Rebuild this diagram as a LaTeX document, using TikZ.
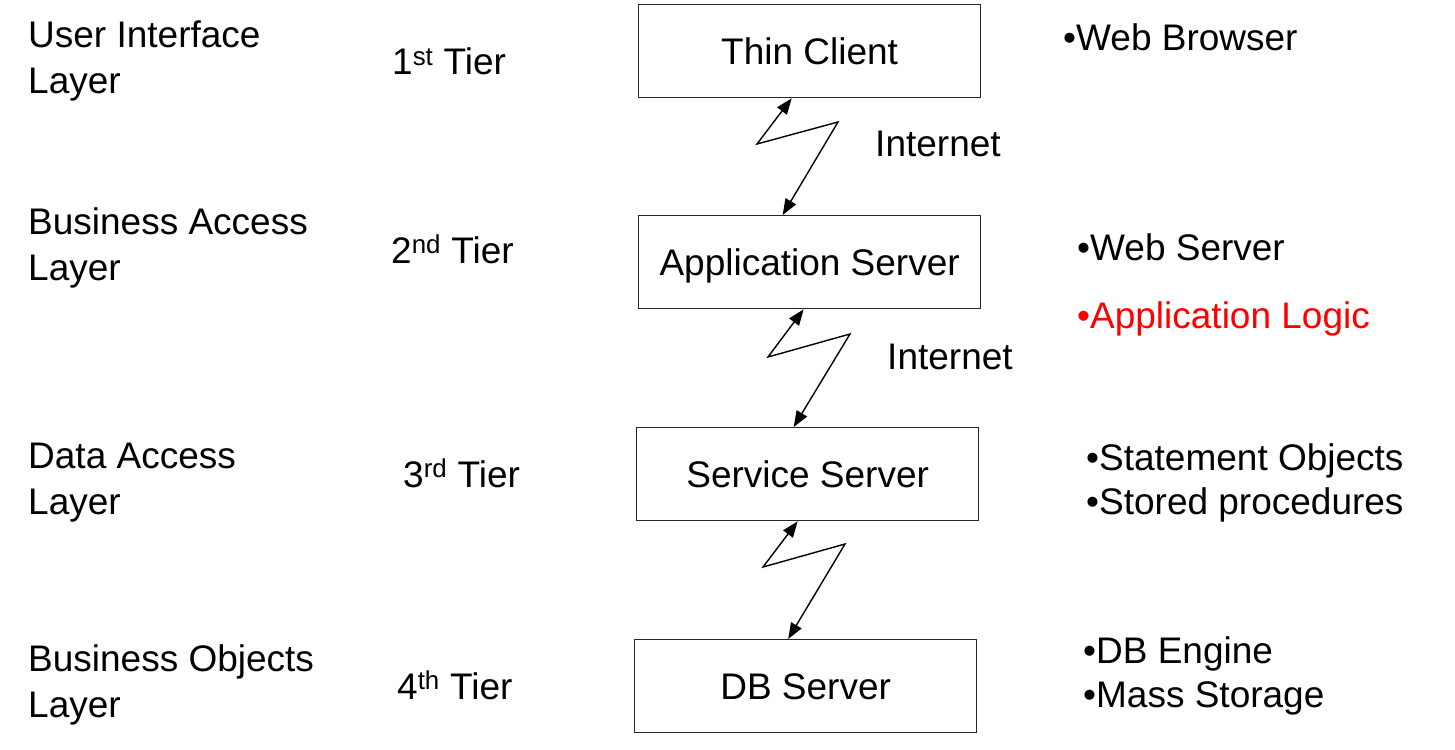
\documentclass[tikz,border=0pt]{standalone}
\usepackage{fontspec}
\setmainfont{Liberation Sans}
\usetikzlibrary{arrows.meta}
\begin{document}
\begin{tikzpicture}[x=1pt,y=-1pt,
  every node/.style={font=\fontsize{37}{44}\selectfont, inner sep=0pt},
  tierbox/.style={draw=black!85, line width=1.3pt, minimum width=342pt, minimum height=93pt, text height=26.5pt, text depth=0pt, anchor=north west},
  txt/.style={anchor=base west},
  zig/.style={line width=1.4pt, {Triangle[length=16pt,width=12pt]}-{Triangle[length=16pt,width=12pt]}}]
\useasboundingbox (0,0) rectangle (1455,749);
% boxes
\node[tierbox] (tc) at (638,4) {Thin Client};
\node[tierbox] (as) at (638,215) {Application Server};
\node[tierbox] (ss) at (636,427) {Service Server};
\node[tierbox] (db) at (634,639) {DB Server};
% zigzag connectors
\coordinate (k1a) at (757,144); \coordinate (k1b) at (838,122);
\coordinate (k2a) at (768,357); \coordinate (k2b) at (850,334);
\coordinate (k3a) at (763,567); \coordinate (k3b) at (845,544);
\draw[zig] ([xshift=-18pt]tc.south) -- (k1a) -- (k1b) -- ([xshift=-27pt]as.north);
\draw[zig] ([xshift=-6pt]as.south) -- (k2a) -- (k2b) -- ([xshift=-14pt]ss.north);
\draw[zig] ([xshift=-10pt]ss.south) -- (k3a) -- (k3b) -- ([xshift=-17.5pt]db.north);
\node[txt] (i1) at (875,157) {Internet};
\node[txt] (i2) at (887,369) {Internet};
% left layer labels
\node[txt] (l1a) at (28,48) {User Interface};
\node[txt] (l1b) at (28,94) {Layer};
\node[txt] (l2a) at (28,234) {Business Access};
\node[txt] (l2b) at (28,280) {Layer};
\node[txt] (l3a) at (28,468) {Data Access};
\node[txt] (l3b) at (28,514) {Layer};
\node[txt] (l4a) at (28,671) {Business Objects};
\node[txt] (l4b) at (28,717) {Layer};
% tiers
\node[txt] (t1) at (392,75) {1\textsuperscript{st} Tier};
\node[txt] (t2) at (391,263) {2\textsuperscript{nd} Tier};
\node[txt] (t3) at (403,487) {3\textsuperscript{rd} Tier};
\node[txt] (t4) at (397,699) {4\textsuperscript{th} Tier};
% right descriptions
\node[txt] (r1) at (1063,51) {•Web Browser};
\node[txt] (r2) at (1077,260) {•Web Server};
\node[txt, text=red] (r3) at (1077,328) {•Application Logic};
\node[txt] (r4) at (1086,470) {•Statement Objects};
\node[txt] (r5) at (1086,514) {•Stored procedures};
\node[txt] (r6) at (1083,663) {•DB Engine};
\node[txt] (r7) at (1083,707) {•Mass Storage};
\end{tikzpicture}
\end{document}
